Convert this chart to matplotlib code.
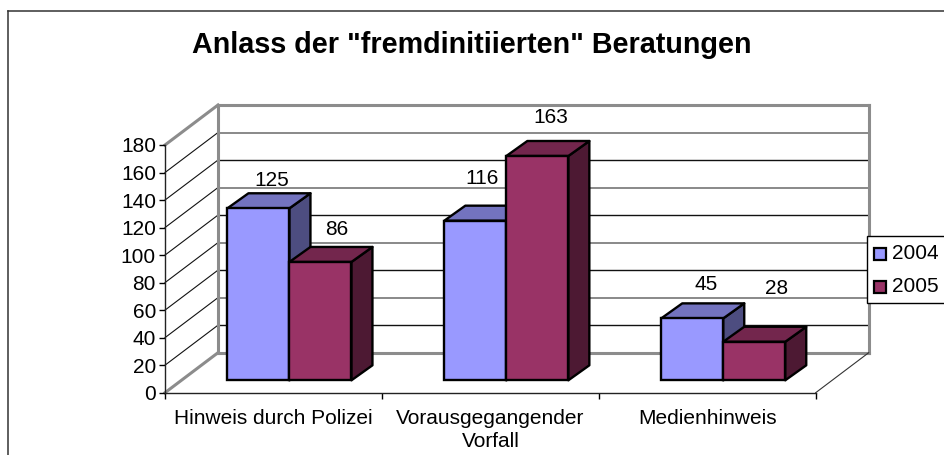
import matplotlib
matplotlib.use('Agg')
import matplotlib.pyplot as plt
from matplotlib.patches import Polygon, Rectangle

categories = ['Hinweis durch Polizei', 'Vorausgegangender\nVorfall', 'Medienhinweis']
years = ['2004', '2005']
values_2004 = [125, 116, 45]
values_2005 = [86, 163, 28]
y_ticks = [0, 20, 40, 60, 80, 100, 120, 140, 160, 180]

# label nudges in pixels, the original labels sit a bit off the bars
nudge_2004 = [(13, 13), (7, 27), (14, 19)]
nudge_2005 = [(16, 17), (13, 23), (22, 38)]

plt.rcParams['font.family'] = ['Liberation Sans', 'DejaVu Sans']

W, H = 945, 455
fig = plt.figure(figsize=(W / 100, H / 100), dpi=100)

# pixel box of the front plane
left, right, top, bottom = 165, 815.7, 145, 392.7
ax = fig.add_axes([left / W, 1 - bottom / H, (right - left) / W, (bottom - top) / H])
ax.set_xlim(0, 3)
ax.set_ylim(0, 180)
ax.patch.set_visible(False)

# depth of the floor and of the bars, in data units
depth_x, depth_y = 53 / 216.9, 40 / 1.376
bar_dx, bar_dy = 21 / 216.9, 15 / 1.376
base_x, base_y = 16 / 216.9, 12.4 / 1.376
bar_w = 62 / 216.9

wall_grey = '#8c8c8c'
edge = 1.7

# back wall and side wall gridlines
for t in y_ticks:
    if t in (0, 180):
        col, lw = wall_grey, 2.2
    elif t % 40 == 20:
        col, lw = '#111111', 1
    else:
        col, lw = '#808080', 1.3
    ax.plot([depth_x, 3 + depth_x], [t + depth_y, t + depth_y], color=col, lw=lw, clip_on=False, zorder=1)
    side = wall_grey if t in (0, 180) else '#111111'
    ax.plot([0, depth_x], [t, t + depth_y], color=side, lw=2.2 if t in (0, 180) else 0.8, clip_on=False, zorder=1)
ax.plot([depth_x, depth_x], [depth_y, 180 + depth_y], color=wall_grey, lw=2.2, clip_on=False, zorder=1)
ax.plot([3 + depth_x, 3 + depth_x], [depth_y, 180 + depth_y], color=wall_grey, lw=2.2, clip_on=False, zorder=1)
ax.plot([3, 3 + depth_x], [0, depth_y], color='#333333', lw=0.8, clip_on=False, zorder=1)


def draw_bar(x0, val, front, top_col, side_col, z):
    y0 = base_y
    y1 = base_y + val
    x1 = x0 + bar_w
    ax.add_patch(Polygon([(x1, y0), (x1 + bar_dx, y0 + bar_dy), (x1 + bar_dx, y1 + bar_dy), (x1, y1)],
                         fc=side_col, ec='black', lw=edge, clip_on=False, zorder=z, joinstyle='round'))
    ax.add_patch(Polygon([(x0, y1), (x0 + bar_dx, y1 + bar_dy), (x1 + bar_dx, y1 + bar_dy), (x1, y1)],
                         fc=top_col, ec='black', lw=edge, clip_on=False, zorder=z, joinstyle='round'))
    ax.bar(x0, val, width=bar_w, bottom=y0, align='edge', color=front, edgecolor='black', lw=edge,
           clip_on=False, zorder=z)


def bar_label(xc, val, nudge, z):
    ax.annotate(str(val), (xc, base_y + val + bar_dy), xytext=(nudge[0] * 0.72, nudge[1] * 0.72),
                textcoords='offset points', ha='center', va='center', fontsize=15, zorder=z,
                annotation_clip=False)


for i in range(len(categories)):
    center = i + 0.5 + base_x
    draw_bar(center - bar_w, values_2004[i], '#9999ff', '#7373bf', '#4d4d80', 3)
    draw_bar(center, values_2005[i], '#993366', '#73264d', '#4d1933', 4)
    bar_label(center - bar_w / 2, values_2004[i], nudge_2004[i], 2)
    bar_label(center + bar_w / 2, values_2005[i], nudge_2005[i], 5)

# front axes
for name in ('top', 'right'):
    ax.spines[name].set_visible(False)
for name in ('left', 'bottom'):
    ax.spines[name].set_color('#222222')
    ax.spines[name].set_linewidth(1)
    ax.spines[name].set_zorder(2)
ax.set_yticks(y_ticks)
ax.tick_params(axis='y', length=4, width=1, labelsize=15, pad=2.5)
ax.set_xticks([0, 1, 2, 3])
ax.set_xticklabels([])
ax.tick_params(axis='x', length=4, width=1)
for i, c in enumerate(categories):
    ax.text(i + 0.5, -11.5, c, ha='center', va='top', fontsize=15, linespacing=1.3)

# chart frame, running off the right and bottom edges
fig.add_artist(plt.Line2D([8 / W, 8 / W], [0, 1 - 11 / H], color='#333333', lw=1.1))
fig.add_artist(plt.Line2D([8 / W, 1], [1 - 11 / H, 1 - 11 / H], color='#333333', lw=1.1))

fig.text(471.5 / W, 1 - 45 / H, 'Anlass der "fremdinitiierten" Beratungen', ha='center', va='center',
         fontsize=20.7, fontweight='bold')

# legend box
fig.add_artist(Rectangle((867 / W, 1 - 303 / H), 90 / W, 67 / H, fc='white', ec='black', lw=1,
                         transform=fig.transFigure, zorder=6))
for year, col, yc in zip(years, ['#9999ff', '#993366'], [253.5, 286.5]):
    fig.add_artist(Rectangle((874 / W, 1 - (yc + 6) / H), 12 / W, 12 / H, fc=col, ec='black', lw=1.6,
                             transform=fig.transFigure, zorder=7))
    fig.text(892 / W, 1 - yc / H, year, ha='left', va='center', fontsize=15, zorder=7)

fig.savefig('out.png', dpi=100)
